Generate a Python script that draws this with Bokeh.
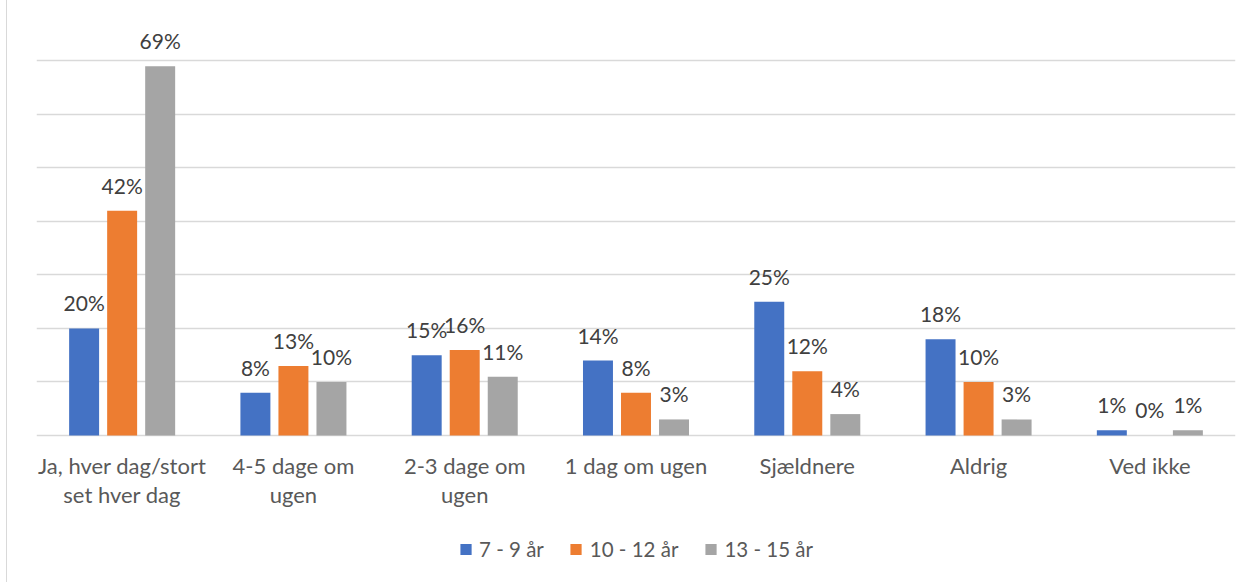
from bokeh.plotting import figure
from bokeh.models import (ColumnDataSource, FactorRange, Range1d, LabelSet,
                          Legend, LegendItem, FixedTicker)
from bokeh.core.properties import value
from bokeh.transform import dodge
from bokeh.embed import file_html
from bokeh.resources import INLINE

# Answer categories (line breaks as they wrap under the bars)
categories = [
    "Ja, hver dag/stort\nset hver dag",
    "4-5 dage om\nugen",
    "2-3 dage om\nugen",
    "1 dag om ugen",
    "Sjældnere",
    "Aldrig",
    "Ved ikke",
]

# Share of children per age group, in percent
age_7_9 = [20, 8, 15, 14, 25, 18, 1]
age_10_12 = [42, 13, 16, 8, 12, 10, 0]
age_13_15 = [69, 10, 11, 3, 4, 3, 1]

series_names = ["7 - 9 år", "10 - 12 år", "13 - 15 år"]
colors = ["#4472C4", "#ED7D31", "#A5A5A5"]
grid_ticks = [0, 10, 20, 30, 40, 50, 60, 70, 80]

FONT = "Lato"

first_line = [c.split("\n")[0] for c in categories]
second_line = [c.split("\n")[1] if "\n" in c else "" for c in categories]

source = ColumnDataSource(data=dict(
    cat=categories, line1=first_line, line2=second_line,
    s1=age_7_9, s2=age_10_12, s3=age_13_15,
    l1=[f"{v}%" for v in age_7_9],
    l2=[f"{v}%" for v in age_10_12],
    l3=[f"{v}%" for v in age_13_15],
))

# The frame runs down to the bottom edge; the space under the zero line
# holds the category names and the legend.
p = figure(
    width=1251, height=582,
    x_range=FactorRange(factors=categories),
    y_range=Range1d(-27.48, 80),
    output_backend="svg", toolbar_location=None,
    min_border_left=29, min_border_right=23,
    min_border_top=7, min_border_bottom=0,
)
p.styles = {"margin-left": "6px", "border-left": "1px solid #d9d9d9"}
p.outline_line_color = None
p.background_fill_color = "white"

p.xaxis.visible = False
p.yaxis.visible = False
p.xgrid.grid_line_color = None
p.ygrid.ticker = FixedTicker(ticks=grid_ticks)
p.ygrid.grid_line_color = "#d9d9d9"
p.ygrid.grid_line_width = 1.5

offsets = [-0.222, 0.0, 0.222]
bar_w = 0.175
renderers = []
for i, (col, lab, color) in enumerate(zip(["s1", "s2", "s3"], ["l1", "l2", "l3"], colors)):
    xs = dodge("cat", offsets[i], range=p.x_range)
    r = p.vbar(x=xs, top=col, width=bar_w, bottom=0, source=source,
               fill_color=color, line_color=None)
    renderers.append(r)
    labels = LabelSet(x=xs, y=col, text=lab, source=source,
                      y_offset=17, text_align="center", text_baseline="alphabetic",
                      text_font=value(FONT), text_font_size="21px", text_color="#404040")
    p.add_layout(labels)

# Category names under the zero line, one centred row per text line
for field, off in (("line1", -39), ("line2", -68)):
    p.add_layout(LabelSet(x="cat", y=0, text=field, source=source,
                          y_offset=off, text_align="center", text_baseline="alphabetic",
                          text_font=value(FONT), text_font_size="22px",
                          text_color="#595959"))

legend = Legend(
    items=[LegendItem(label=n, renderers=[r]) for n, r in zip(series_names, renderers)],
    orientation="horizontal", location="bottom_center",
    glyph_width=14, glyph_height=14, label_standoff=7, spacing=25,
    label_text_font=FONT, label_text_font_size="20.5px", label_text_color="#595959",
    border_line_color=None, background_fill_alpha=0, padding=5, margin=21,
)
p.add_layout(legend)

open("out.html", "w").write(file_html(p, INLINE))
